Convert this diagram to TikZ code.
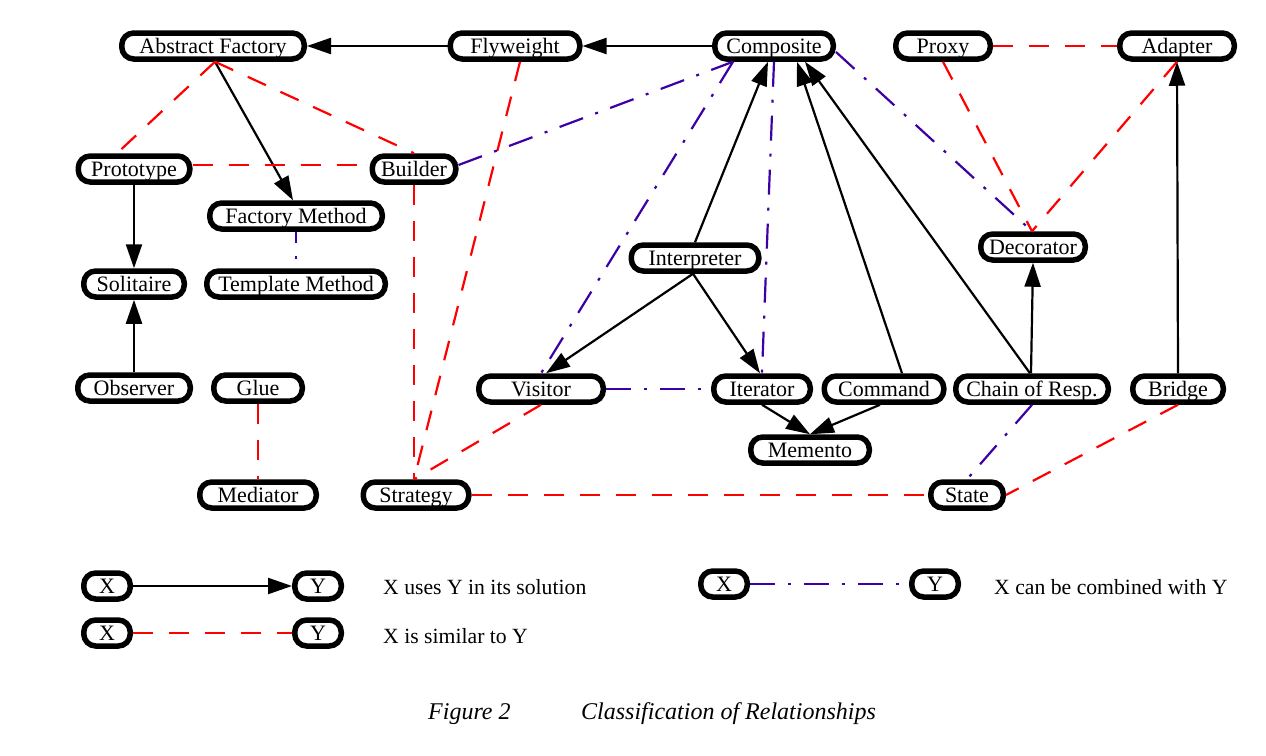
\documentclass[tikz,border=0pt]{standalone}
\usepackage{fontspec}
\setmainfont{Liberation Serif}
\usetikzlibrary{arrows.meta}
\definecolor{simred}{RGB}{255,0,0}
\definecolor{combblue}{RGB}{60,0,165}
\tikzset{
  pat/.style={draw, line width=5.5pt, rounded corners=12pt, minimum height=26pt,
    inner sep=0pt, fill=white, text height=17pt, text depth=3pt,
    font=\fontsize{22}{26}\selectfont},
  uses/.style={line width=2.2pt, -{Triangle[length=24pt,width=16pt]}},
  similar/.style={line width=2.2pt, simred, dash pattern=on 20pt off 16pt},
  combined/.style={line width=2.2pt, combblue, dash pattern=on 25pt off 13pt on 3pt off 13pt},
  lbl/.style={anchor=base west, inner sep=0pt, font=\fontsize{21.7}{25}\selectfont}
}
\begin{document}
\begin{tikzpicture}[x=1pt,y=-1pt]
\useasboundingbox (0,0) rectangle (1266,755);
% nodes
\node[pat, minimum width=182.5pt] (af) at (213,46) {Abstract Factory};
\node[pat, minimum width=129.5pt] (fly) at (515,46) {Flyweight};
\node[pat, minimum width=118.5pt] (comp) at (774,46) {Composite};
\node[pat, minimum width=94.5pt] (proxy) at (943,46) {Proxy};
\node[pat, minimum width=114.5pt] (adapt) at (1177,46) {Adapter};
\node[pat, minimum width=111.5pt] (proto) at (134,169) {Prototype};
\node[pat, minimum width=83.5pt] (builder) at (414,169) {Builder};
\node[pat, minimum width=172.5pt] (fm) at (296,216) {Factory Method};
\node[pat, minimum width=178.5pt] (tm) at (296,284) {Template Method};
\node[pat, minimum width=100.5pt] (sol) at (134,284) {Solitaire};
\node[pat, minimum width=104.5pt] (dec) at (1033,247) {Decorator};
\node[pat, minimum width=127.5pt] (interp) at (695,258) {Interpreter};
\node[pat, minimum width=112.5pt] (obs) at (134,388) {Observer};
\node[pat, minimum width=88.5pt] (glue) at (258,388) {Glue};
\node[pat, minimum width=124.5pt] (visitor) at (541,389) {Visitor};
\node[pat, minimum width=96.5pt] (iter) at (762,389) {Iterator};
\node[pat, minimum width=119.5pt] (cmd) at (884,389) {Command};
\node[pat, minimum width=152.5pt] (chain) at (1032,389) {Chain of Resp.};
\node[pat, minimum width=90.5pt] (bridge) at (1178,389) {Bridge};
\node[pat, minimum width=118.5pt] (mem) at (810,450) {Memento};
\node[pat, minimum width=116.5pt] (med) at (258,495) {Mediator};
\node[pat, minimum width=105.5pt] (strat) at (416,495) {Strategy};
\node[pat, minimum width=72.5pt] (state) at (967,495) {State};
% legend nodes
\node[pat, minimum width=46.5pt] (lx1) at (107,586) {X};
\node[pat, minimum width=46.5pt] (ly1) at (318,586) {Y};
\node[pat, minimum width=46.5pt] (lx2) at (107,633) {X};
\node[pat, minimum width=46.5pt] (ly2) at (318,633) {Y};
\node[pat, minimum width=46.5pt] (rx) at (724,584) {X};
\node[pat, minimum width=46.5pt] (ry) at (935,584) {Y};
% uses
\draw[uses] (fly.west) -- (af.east);
\draw[uses] (comp.west) -- (fly.east);
\draw[uses] ([xshift=2pt]af.south) -- ([xshift=-3pt]fm.north);
\draw[uses] (proto.south) -- (sol.north);
\draw[uses] (obs.north) -- (sol.south);
\draw[uses] (interp.north) -- ([xshift=-6pt]comp.south);
\draw[uses] ([xshift=18pt]cmd.north) -- ([xshift=23pt]comp.south);
\draw[uses] ([xshift=-2pt]chain.north) -- ([xshift=31pt]comp.south);
\draw[uses] ([xshift=-1pt]chain.north) -- (dec.south);
\draw[uses] (iter.south) -- (mem.north);
\draw[uses] ([xshift=-4pt]cmd.south) -- (mem.north);
\draw[uses] ([xshift=-2pt]interp.south) -- ([xshift=5pt]visitor.north);
\draw[uses] ([xshift=-2pt]interp.south) -- ([xshift=-2pt]iter.north);
\draw[uses] (bridge.north) -- (adapt.south);
% similar
\draw[similar] ([xshift=2pt]af.south) -- ([xshift=-17pt]proto.north);
\draw[similar] ([xshift=2pt]af.south) -- (builder.north);
\draw[similar] ([yshift=4pt]proto.east) -- ([yshift=4pt]builder.west);
\draw[similar] (glue.south) -- (med.north);
\draw[similar] (builder.south) -- ([xshift=-2pt]strat.north);
\draw[similar] ([xshift=5pt]fly.south) -- ([xshift=-2pt]strat.north);
\draw[similar] (visitor.south) -- ([xshift=-2pt]strat.north);
\draw[similar] (strat.east) -- (state.west);
\draw[similar] (bridge.south) -- (state.east);
\draw[similar] (proxy.east) -- (adapt.west);
\draw[similar] (proxy.south) -- ([xshift=-1pt]dec.north);
\draw[similar] (adapt.south) -- ([xshift=-1pt]dec.north);
% combined
\draw[combined, dash phase=14pt] (fm.south) -- (tm.north);
\draw[combined] ([yshift=4pt]builder.east) -- ([xshift=-41pt]comp.south);
\draw[combined] ([xshift=-41pt]comp.south) -- (visitor.north);
\draw[combined] (comp.south) -- (iter.north);
\draw[combined] ([yshift=-6pt]comp.east) -- ([xshift=-1pt]dec.north);
\draw[combined] (visitor.east) -- (iter.west);
\draw[combined] (chain.south) -- (state.north);
% legend edges
\draw[uses] (lx1.east) -- (ly1.west);
\draw[similar] (lx2.east) -- (ly2.west);
\draw[combined] (rx.east) -- (ry.west);
\node[lbl] (t1) at (383,594) {X uses Y in its solution};
\node[lbl] (t2) at (383,643) {X is similar to Y};
\node[lbl] (t3) at (994,594) {X can be combined with Y};
% caption
\node[lbl, font=\fontsize{24}{28}\selectfont\itshape] (c1) at (428,719) {Figure 2};
\node[lbl, font=\fontsize{24}{28}\selectfont\itshape] (c2) at (581,719) {Classification of Relationships};
\end{tikzpicture}
\end{document}
